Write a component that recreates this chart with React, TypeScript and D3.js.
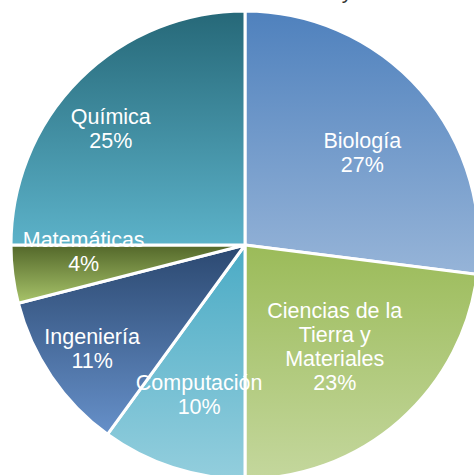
import React, { useEffect, useRef } from 'react'
import * as d3 from 'd3'

// slices, clockwise from 12 o'clock
const categories = ['Biología', 'Ciencias de la Tierra y Materiales', 'Computación', 'Ingeniería', 'Matemáticas', 'Química']
const percents = [27, 23, 10, 11, 4, 25]

// gradient stops per slice (top -> bottom)
const topColors = ['#4f81bd', '#9bbb59', '#4babc5', '#2b4870', '#53672a', '#266878']
const bottomColors = ['#96b4d8', '#c4d79d', '#93cedd', '#6690c9', '#a8c46a', '#5cb2c9']

// label placement: fraction of radius and small angle nudge (degrees)
const labelRadius = [0.64, 0.58, 0.67, 0.79, 0.69, 0.76]
const labelNudge = [3, 0, -1, 0, 5, -4]

const W = 474
const H = 475

function wrap(text: string, max: number) {
  const words = text.split(' ')
  const lines: string[] = []
  let cur = ''
  words.forEach(w => {
    const next = cur ? cur + ' ' + w : w
    if (next.length > max && cur) {
      lines.push(cur)
      cur = w
    } else {
      cur = next
    }
  })
  if (cur) lines.push(cur)
  return lines
}

export default function App() {
  const ref = useRef<SVGSVGElement>(null)

  useEffect(() => {
    const svg = d3.select(ref.current)
    svg.selectAll('*').remove()

    const cx = 245
    const cy = 245
    const r = 234

    const data = categories.map((c, i) => ({ name: c, value: percents[i], i }))

    const pie = d3.pie<any>().sort(null).value(d => d.value)
    const arc = d3.arc<any>().innerRadius(0).outerRadius(r)
    const arcs = pie(data)

    const defs = svg.append('defs')
    arcs.forEach((a, i) => {
      const g = defs.append('linearGradient')
        .attr('id', 'grad' + i)
        .attr('x1', 0).attr('y1', 0).attr('x2', 0).attr('y2', 1)
      g.append('stop').attr('offset', '0%').attr('stop-color', topColors[i])
      g.append('stop').attr('offset', '100%').attr('stop-color', bottomColors[i])
    })

    // cut-off title fragment at the very top (only its descender shows in the original)
    svg.append('text')
      .attr('x', 347)
      .attr('y', -1)
      .attr('text-anchor', 'middle')
      .attr('font-family', 'Liberation Sans, Arial, sans-serif')
      .attr('font-size', 21)
      .attr('fill', '#333')
      .text('y')

    const g = svg.append('g').attr('transform', 'translate(' + cx + ',' + cy + ')')

    g.selectAll('path.slice')
      .data(arcs)
      .enter()
      .append('path')
      .attr('class', 'slice')
      .attr('d', arc)
      .attr('fill', (d, i) => 'url(#grad' + i + ')')
      .attr('stroke', '#fff')
      .attr('stroke-width', 3)
      .attr('stroke-linejoin', 'round')

    const lineH = 24
    arcs.forEach((a, i) => {
      const mid = (a.startAngle + a.endAngle) / 2 + labelNudge[i] * Math.PI / 180
      const lr = r * labelRadius[i]
      const x = Math.sin(mid) * lr
      const y = -Math.cos(mid) * lr
      const lines = wrap(a.data.name, 14).concat([a.data.value + '%'])
      const t = g.append('text')
        .attr('text-anchor', 'middle')
        .attr('font-family', 'Liberation Sans, Arial, sans-serif')
        .attr('font-size', 21.5)
        .attr('fill', '#fff')
      const y0 = y - (lines.length - 1) * lineH / 2
      lines.forEach((l, k) => {
        t.append('tspan')
          .attr('x', x)
          .attr('y', y0 + k * lineH)
          .attr('dy', '0.35em')
          .text(l)
      })
    })
  }, [])

  return (
    <svg
      ref={ref}
      width={W}
      height={H}
      style={{ position: 'absolute', left: 0, top: 0, background: '#fff', overflow: 'hidden' }}
    />
  )
}
